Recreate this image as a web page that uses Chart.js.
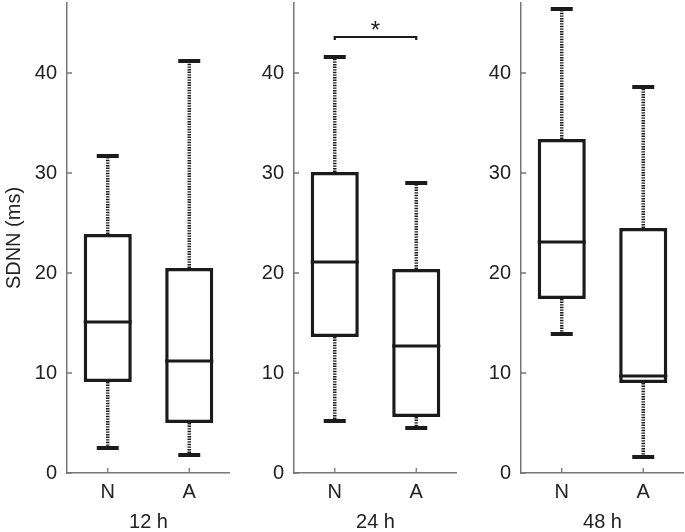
<!DOCTYPE html>
<html>
<head>
<meta charset="utf-8">
<script src="https://cdn.jsdelivr.net/npm/chart.js@4.4.1/dist/chart.umd.min.js"></script>
<style>
  html, body { margin: 0; padding: 0; background: #fff; }
  #wrap { position: relative; width: 685px; height: 532px; overflow: hidden; }
  #wrap canvas { position: absolute; top: 0; }
</style>
</head>
<body>
<div id="wrap">
  <canvas id="c0" width="230" height="532" style="left:0px"></canvas>
  <canvas id="c1" width="230" height="532" style="left:227px"></canvas>
  <canvas id="c2" width="230" height="532" style="left:454px"></canvas>
</div>
<script>
// Box plot values per panel (12 h, 24 h, 48 h), each [N, A]
const groups = ['N', 'A'];
const panelTitles = ['12 h', '24 h', '48 h'];
const whiskerLow  = [[2.5, 1.8], [5.2, 4.5], [13.9, 1.6]];
const quartile1   = [[9.1, 5.0], [13.6, 5.6], [17.4, 9.0]];
const medians     = [[15.1, 11.2], [21.1, 12.7], [23.1, 9.7]];
const quartile3   = [[23.9, 20.5], [30.1, 20.4], [33.4, 24.5]];
const whiskerHigh = [[31.7, 41.2], [41.6, 29.0], [46.4, 38.6]];
const yTicks = [0, 10, 20, 30, 40];
const yMax = 47;
const yTitle = 'SDNN (ms)';
// significance bracket (24 h panel)
const sigPanel = 1;
const sigLevel = 43.6;
const sigLabel = '*';

const INK = '#1b1b1b';
const AXIS = '#777';
const TEXT = '#222';
const FONT = "'Liberation Sans', Arial, sans-serif";

const boxParts = {
  id: 'boxParts',
  beforeDatasetsDraw(chart) {
    // dotted whiskers, drawn under the boxes
    const i = chart.options.plugins.boxParts.panel;
    const y = chart.scales.y, ctx = chart.ctx;
    const bars = chart.getDatasetMeta(0).data;
    ctx.save();
    ctx.strokeStyle = INK;
    ctx.lineWidth = 3.5;
    ctx.setLineDash([1.4, 1.2]);
    bars.forEach((b, k) => {
      ctx.beginPath();
      ctx.moveTo(b.x, y.getPixelForValue(quartile3[i][k]));
      ctx.lineTo(b.x, y.getPixelForValue(whiskerHigh[i][k]));
      ctx.moveTo(b.x, y.getPixelForValue(quartile1[i][k]));
      ctx.lineTo(b.x, y.getPixelForValue(whiskerLow[i][k]));
      ctx.stroke();
    });
    ctx.restore();
  },
  afterDatasetsDraw(chart) {
    const i = chart.options.plugins.boxParts.panel;
    const { x, y } = chart.scales;
    const ctx = chart.ctx, area = chart.chartArea;
    const bars = chart.getDatasetMeta(0).data;
    ctx.save();
    ctx.strokeStyle = INK;
    bars.forEach((b, k) => {
      // median
      ctx.lineWidth = 3;
      const m = y.getPixelForValue(medians[i][k]);
      ctx.beginPath();
      ctx.moveTo(b.x - b.width / 2, m);
      ctx.lineTo(b.x + b.width / 2, m);
      ctx.stroke();
      // caps
      ctx.lineWidth = 4;
      [whiskerHigh[i][k], whiskerLow[i][k]].forEach(v => {
        const p = y.getPixelForValue(v);
        ctx.beginPath();
        ctx.moveTo(b.x - 11, p);
        ctx.lineTo(b.x + 11, p);
        ctx.stroke();
      });
    });

    // inward tick marks
    ctx.strokeStyle = AXIS;
    ctx.lineWidth = 1.3;
    ctx.beginPath();
    yTicks.forEach(v => {
      const p = y.getPixelForValue(v);
      ctx.moveTo(area.left, p);
      ctx.lineTo(area.left + 5, p);
    });
    groups.forEach((g, k) => {
      const p = x.getPixelForValue(k);
      ctx.moveTo(p, area.bottom);
      ctx.lineTo(p, area.bottom - 5);
    });
    ctx.stroke();

    if (i === sigPanel) {
      const p = y.getPixelForValue(sigLevel);
      const x0 = bars[0].x, x1 = bars[1].x;
      ctx.strokeStyle = INK;
      ctx.lineWidth = 2.2;
      ctx.beginPath();
      ctx.moveTo(x0, p + 3);
      ctx.lineTo(x0, p);
      ctx.lineTo(x1, p);
      ctx.lineTo(x1, p + 3);
      ctx.stroke();
      ctx.fillStyle = INK;
      ctx.font = '24px ' + FONT;
      ctx.textAlign = 'center';
      ctx.textBaseline = 'middle';
      ctx.fillText(sigLabel, (x0 + x1) / 2, p - 6);
    }
    ctx.restore();
  }
};

function makePanel(i) {
  const ctx = document.getElementById('c' + i).getContext('2d');
  return new Chart(ctx, {
    type: 'bar',
    data: {
      labels: groups,
      datasets: [{
        data: quartile1[i].map((q, k) => [q, quartile3[i][k]]),
        backgroundColor: '#fff',
        borderColor: INK,
        borderWidth: 3.5,
        borderSkipped: false,
        barPercentage: 0.59,
        categoryPercentage: 1,
      }]
    },
    options: {
      responsive: false, animation: false,
      layout: { padding: { top: 3, left: 0, right: 0, bottom: 0 } },
      plugins: { legend: { display: false }, tooltip: { enabled: false }, boxParts: { panel: i } },
      scales: {
        x: {
          offset: true,
          grid: { display: false, drawTicks: false, tickLength: 0 },
          border: { display: true, color: AXIS, width: 1.5 },
          ticks: { color: TEXT, font: { family: FONT, size: 20 }, padding: 7 },
          title: { display: true, text: panelTitles[i], color: TEXT, padding: 0,
                   font: { family: FONT, size: 20, lineHeight: 1 } },
          afterFit: s => { s.height = 59; s.paddingLeft = 0; s.paddingRight = 0; },
        },
        y: {
          min: 0, max: yMax,
          grid: { display: false, drawTicks: false, tickLength: 0 },
          border: { display: true, color: AXIS, width: 1.5 },
          ticks: { color: TEXT, font: { family: FONT, size: 20 }, padding: 10 },
          afterBuildTicks: s => { s.ticks = yTicks.map(v => ({ value: v })); },
          title: { display: i === 0, text: yTitle, color: TEXT, padding: { top: 2, bottom: 0 },
                   font: { family: FONT, size: 20 } },
          afterFit: s => { s.width = 67; s.paddingTop = 0; s.paddingBottom = 0; },
        }
      }
    },
    plugins: [boxParts]
  });
}

panelTitles.forEach((t, i) => makePanel(i));
</script>
</body>
</html>
